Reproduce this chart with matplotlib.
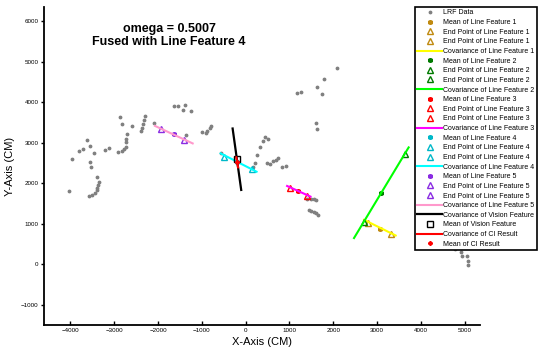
import numpy as np
import matplotlib
matplotlib.use("Agg")
import matplotlib.pyplot as plt

plt.rcParams['font.family'] = ['Liberation Sans', 'DejaVu Sans']

# LRF scan points (cm)
lrf_x = [-4036, -3954, -3808, -3716, -3618, -3557, -3466, -3557, -3520, -3384,
         -3338, -3361, -3384, -3397, -3429, -3498, -3580, -3201, -3117, -2918,
         -2827, -2768, -2729, -2722, -2722, -2706, -2866, -2827, -2599, -2394,
         -2371, -2335, -2319, -2289, -2098, -1635, -1537, -1384, -1423, -1254,
         -1368, -996, -912, -876, -821, -784, -552, 212, 173, 264,
         326, 388, 447, 502, 479, 554, 629, 684, 743, 834,
         919, 1176, 1254, 1632, 1746, 1785, 2082, 1619, 1632, 1409,
         1489, 1564, 1614, 1450, 1505, 1557, 1603, 1648,
         4680, 4783, 4909, 4943, 5046, 5068, 5068]
lrf_y = [1815, 2588, 2785, 2834, 3070, 2908, 2750, 2522, 2399, 2145,
         2030, 1963, 1889, 1833, 1766, 1717, 1685, 2824, 2859, 2775,
         2799, 2841, 2898, 3006, 3095, 3203, 3629, 3456, 3424, 3277,
         3358, 3456, 3555, 3670, 3498, 3906, 3906, 3924, 3818, 3793,
         3186, 3260, 3235, 3291, 3365, 3424, 2736, 2490, 2406, 2694,
         2898, 3033, 3137, 3100, 2490, 2465, 2546, 2563, 2620, 2406,
         2423, 4236, 4251, 4374, 4212, 4581, 4851, 3481, 3341, 1611,
         1611, 1599, 1574, 1346, 1316, 1299, 1274, 1210,
         438, 381, 300, 209, 192, 79, -20]

# line features: mean, two end points, covariance segment
feat_mean = [(3062, 873), (3101, 1751), (1199, 1815), (-192, 2529), (-1628, 3203)]
feat_end1 = [(2795, 1014), (2704, 1053), (1010, 1889), (-495, 2637), (-1938, 3350)]
feat_end2 = [(3329, 750), (3632, 2718), (1404, 1685), (137, 2349), (-1407, 3063)]
feat_cov = [((2704, 3427), (1095, 708)),
            ((2476, 3723), (645, 2883)),
            ((948, 1482), (1931, 1668)),
            ((-570, 251), (2736, 2283)),
            ((-2068, -1208), (3414, 2982))]
mark_col = ['#c08a10', '#007a00', '#ff0000', '#00b8c8', '#8a2be2']
cov_col = ['#ffff00', '#00ff00', '#ff00ff', '#00ffff', '#ff99cc']

vision_mean = (-205, 2603)
vision_cov = ((-296, -100), (3350, 1833))
ci_mean = (-192, 2514)
ci_cov = ((-212, -172), (2640, 2390))

fig = plt.figure(figsize=(5.38, 3.52), dpi=100)
ax = fig.add_axes([0.082, 0.077, 0.81, 0.903])

ax.plot(lrf_x, lrf_y, '.', color='#808080', ms=3.5, ls='none', label='LRF Data')

for i in range(5):
    n = i + 1
    ax.plot(*feat_mean[i], marker=(6, 2, 0), color=mark_col[i], ms=3.5, mew=1.2,
            ls='none', label='Mean of Line Feature %d' % n)
    ax.plot(*feat_end1[i], marker='^', mfc='none', mec=mark_col[i], ms=4, mew=1,
            ls='none', label='End Point of Line Feature %d' % n)
    ax.plot(*feat_end2[i], marker='^', mfc='none', mec=mark_col[i], ms=4, mew=1,
            ls='none', label='End Point of Line Feature %d' % n)
    ax.plot(feat_cov[i][0], feat_cov[i][1], '-', color=cov_col[i], lw=1.5,
            label='Covariance of Line Feature %d' % n)

ax.plot(vision_cov[0], vision_cov[1], '-', color='k', lw=1.6,
        label='Covariance of Vision Feature')
ax.plot(*vision_mean, marker='s', mfc='none', mec='k', ms=4, mew=1, ls='none',
        label='Mean of Vision Feature')
ax.plot(ci_cov[0], ci_cov[1], '-', color='r', lw=1.5, label='Covariance of CI Result')
ax.plot(*ci_mean, marker=(6, 2, 0), color='r', ms=3, mew=1.2, ls='none',
        label='Mean of CI Result')

ax.set_xlim(-4600, 5350)
ax.set_ylim(-1500, 6350)
ax.set_xticks(np.arange(-4000, 5001, 1000))
ax.set_yticks(np.arange(-1000, 6001, 1000))
ax.tick_params(axis='both', labelsize=4.5, width=1, length=3, pad=2)
ax.tick_params(axis='x', direction='in')
ax.tick_params(axis='y', direction='out', length=2)
for s in ['top', 'right']:
    ax.spines[s].set_visible(False)
for s in ['left', 'bottom']:
    ax.spines[s].set_linewidth(1.3)

ax.set_xlabel('X-Axis (CM)', fontsize=8, labelpad=3)
ax.set_ylabel('Y-Axis (CM)', fontsize=8, labelpad=4)

fig.text(169 / 538, 1 - 35.5 / 352, 'omega = 0.5007\nFused with Line Feature 4',
         ha='center', va='center', fontsize=9, fontweight='bold', linespacing=1.15)

leg = fig.legend(loc='upper left', bbox_to_anchor=(415 / 538, 1 - 7 / 352),
                 fontsize=5, handlelength=3.6, handletextpad=0.1, labelspacing=0.38,
                 borderaxespad=0, borderpad=0.35, fancybox=False, framealpha=1,
                 edgecolor='k', numpoints=1)
leg.get_frame().set_linewidth(1.2)

fig.savefig('out.png', dpi=100)
